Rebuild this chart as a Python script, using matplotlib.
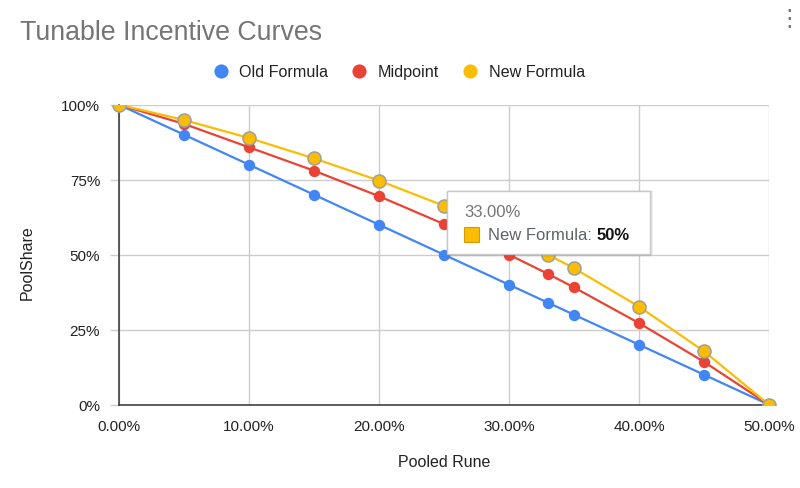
import matplotlib
matplotlib.use("Agg")
import matplotlib.pyplot as plt
from matplotlib.lines import Line2D
from matplotlib.patches import Rectangle
from matplotlib.ticker import FuncFormatter

# ---- data (percent) ----
pooled_rune = [0, 5, 10, 15, 20, 25, 30, 33, 35, 40, 45, 50]
old_formula = [100, 90, 80, 70, 60, 50, 40, 34, 30, 20, 10, 0]
midpoint    = [100, 93.6, 85.8, 78, 69.5, 60.2, 50, 43.6, 39.1, 27.2, 14.3, 0]
new_formula = [100, 94.9, 88.9, 82.1, 74.7, 66.3, 57.1, 50, 45.5, 32.7, 17.8, 0]
series_names = ["Old Formula", "Midpoint", "New Formula"]
series_colors = ["#4285F4", "#EA4335", "#FBBC04"]
x_ticks = [0, 10, 20, 30, 40, 50]
y_ticks = [0, 25, 50, 75, 100]
tooltip_index = 7  # hovered point of New Formula

FONT = ["Liberation Sans", "DejaVu Sans"]
plt.rcParams["font.family"] = FONT

W, H = 800, 489
fig = plt.figure(figsize=(W / 100, H / 100), dpi=100)
fig.patch.set_facecolor("white")
ax = fig.add_axes([119 / W, (H - 405.7) / H, 650 / W, 300 / H])

ax.set_xlim(0, 50)
ax.set_ylim(0, 100)

clip = Rectangle((-0.03, 0), 1.06, 1.0, transform=ax.transAxes, facecolor="none", edgecolor="none")

all_series = [old_formula, midpoint, new_formula]
for i, (name, vals, col) in enumerate(zip(series_names, all_series, series_colors)):
    if i == 2:
        ln, = ax.plot(pooled_rune, vals, color=col, lw=1.6, marker="o", ms=9.4,
                      mfc=col, mec="#9e9e9e", mew=1.1, zorder=3 + i)
    else:
        ln, = ax.plot(pooled_rune, vals, color=col, lw=1.6, marker="o", ms=8.2,
                      mfc=col, mec=col, mew=0, zorder=3 + i)
    ln.set_clip_path(clip)

ax.set_xticks(x_ticks)
ax.set_yticks(y_ticks)
ax.xaxis.set_major_formatter(FuncFormatter(lambda v, p: f"{v:.2f}%"))
ax.yaxis.set_major_formatter(FuncFormatter(lambda v, p: f"{v:.0f}%"))
ax.grid(True, color="#cccccc", lw=1)
ax.set_axisbelow(True)
for s in ["top", "right"]:
    ax.spines[s].set_visible(False)
for s in ["left", "bottom"]:
    ax.spines[s].set_color("#333333")
    ax.spines[s].set_linewidth(1.1)
    ax.spines[s].set_zorder(2.5)
ax.tick_params(axis="x", length=0, pad=10, labelsize=11, labelcolor="#222222")
ax.tick_params(axis="y", length=6.5, width=1, color="#cccccc", pad=7, labelsize=11, labelcolor="#222222")
ax.yaxis.get_major_ticks()[0].tick1line.set_color("#333333")

ax.set_xlabel("Pooled Rune", fontsize=11.5, color="#222222")
ax.set_ylabel("PoolShare", fontsize=11.5, color="#222222")
ax.xaxis.set_label_coords(0.5, (405.7 - 463) / 300)
ax.xaxis.label.set_va("center")
ax.yaxis.set_label_coords((27 - 119) / 650, (405.7 - 263) / 300)
ax.yaxis.label.set_va("center")

# title
fig.text(20 / W, 1 - 33 / H, "Tunable Incentive Curves", fontsize=19.3, color="#757575",
         ha="left", va="center")
# menu dots
fig.text(789 / W, 1 - 19 / H, "\u22ee", fontsize=17, color="#757575", ha="center", va="center",
         family=["DejaVu Sans"])

r = fig.canvas.get_renderer()

# legend (manual, display pixels)
dot_r = 7.0
dot_to_text = 18.7
item_gap = 24.0
leg_base = H - 77.0
leg_mid = H - 71.7
texts = []
widths = []
for name in series_names:
    t = fig.text(0, leg_base, name, transform=None, fontsize=11.6, color="#222222",
                 ha="left", va="baseline")
    texts.append(t)
    widths.append(t.get_window_extent(r).width)
total = sum(2 * dot_r + dot_to_text - dot_r + w for w in widths) + item_gap * (len(widths) - 1)
x = 399.3 - total / 2
for t, w, c in zip(texts, widths, series_colors):
    cx = x + dot_r
    fig.add_artist(Line2D([cx], [leg_mid], transform=None, ls="none", marker="o", ms=10.2,
                          mfc=c, mec=c, mew=0))
    t.set_x(cx + dot_to_text)
    x = cx + dot_to_text + w + item_gap

# tooltip (display pixels)
px, py = ax.transData.transform((pooled_rune[tooltip_index], new_formula[tooltip_index]))
bl, br = px - 101, px + 102
bb, bt = py + 0.7, py + 63.5
for k, a in enumerate([0.05, 0.05, 0.06]):
    fig.patches.append(Rectangle((bl - 1 + k, bb - 3 + k), br - bl + 2, bt - bb + 2,
                                 transform=None, facecolor="black", alpha=a,
                                 edgecolor="none", zorder=9))
fig.patches.append(Rectangle((bl, bb), br - bl, bt - bb, transform=None,
                             facecolor="white", edgecolor="#c8c8c8", lw=1, zorder=10))
fig.text(bl + 17, bt - 20.5, f"{pooled_rune[tooltip_index]:.2f}%", transform=None,
         fontsize=12, color="#757575", ha="left", va="center", zorder=11)
fig.patches.append(Rectangle((bl + 16.5, bt - 50.6), 15, 14.6, transform=None,
                             facecolor=series_colors[2], edgecolor="#d19c00", lw=0.8, zorder=11))
t2 = fig.text(bl + 41.5, bt - 43.5, f"{series_names[2]}:", transform=None,
              fontsize=12, color="#5f6368", ha="left", va="center", zorder=11)
e = t2.get_window_extent(r)
fig.text(e.x1 + 4.5, bt - 43.5, f"{new_formula[tooltip_index]:.0f}%", transform=None,
         fontsize=12, color="#111111", fontweight="bold", ha="left", va="center", zorder=11)

fig.savefig("out.png", dpi=100, facecolor="white")
